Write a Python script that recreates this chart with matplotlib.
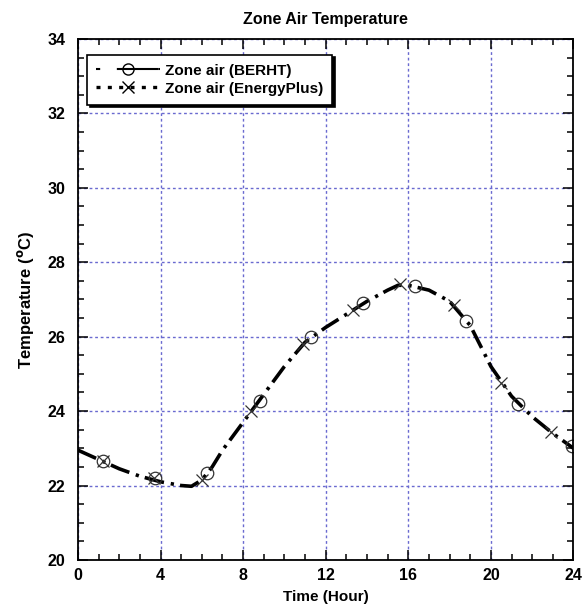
import matplotlib.pyplot as plt
from matplotlib.ticker import MultipleLocator

# curve readings (hour, deg C)
hours = [0, 1, 2, 3, 4, 5, 5.5, 6, 6.5, 7, 8, 9, 10, 11, 12, 13, 14, 15, 15.5, 16, 17, 18, 19, 20, 21, 22, 23, 24]
tempBerht = [22.95, 22.7, 22.45, 22.25, 22.1, 22.0, 21.98, 22.15, 22.5, 22.95, 23.7, 24.45, 25.2, 25.85,
             26.25, 26.6, 26.95, 27.25, 27.38, 27.38, 27.25, 26.95, 26.3, 25.2, 24.4, 23.85, 23.4, 23.0]
tempEplus = [22.95, 22.7, 22.45, 22.25, 22.1, 22.0, 21.98, 22.15, 22.5, 22.95, 23.7, 24.45, 25.2, 25.85,
             26.25, 26.6, 26.95, 27.25, 27.38, 27.38, 27.25, 26.95, 26.3, 25.2, 24.4, 23.85, 23.4, 23.0]

# marker positions
markHoursBerht = [1.2, 3.75, 6.25, 8.8, 11.3, 13.8, 16.3, 18.8, 21.3, 23.95]
markTempBerht = [22.65, 22.2, 22.35, 24.28, 26.0, 26.9, 27.35, 26.42, 24.18, 23.05]
markHoursEplus = [1.2, 3.7, 6.0, 8.4, 10.9, 13.3, 15.6, 18.2, 20.5, 22.9]
markTempEplus = [22.65, 22.2, 22.15, 24.0, 25.8, 26.72, 27.42, 26.85, 24.75, 23.45]

plt.rcParams['font.family'] = ['Liberation Sans', 'DejaVu Sans']
plt.rcParams['font.weight'] = 'bold'

fig = plt.figure(figsize=(5.85, 6.08), dpi=100)
ax = fig.add_axes([0.1333, 0.079, 0.847, 0.857])

# dash from one series, dot from the other -> dash-dot look
ax.plot(hours, tempBerht, color='black', lw=2.6, linestyle=(0, (5.5, 4.5)))
ax.plot(hours, tempEplus, color='black', lw=2.6, linestyle=(2.6, (0.9, 9.1)))
ax.plot(markHoursBerht, markTempBerht, linestyle='none', marker='o', ms=9, mfc='none', mec='#333333', mew=0.9)
ax.plot(markHoursEplus, markTempEplus, linestyle='none', marker='x', ms=9, mec='#333333', mew=0.9)

# legend handles
hB, = ax.plot([], [], color='black', lw=1.5, linestyle=(0, (2, 8, 20, 0.1)), marker='o', ms=8, mfc='none', mec='black', mew=1)
hE, = ax.plot([], [], color='black', lw=2.4, linestyle=(0, (1.2, 2.2)), marker='x', ms=8, mec='black', mew=1)
leg = ax.legend([hB, hE], ['Zone air (BERHT)', 'Zone air (EnergyPlus)'], loc='upper left',
                bbox_to_anchor=(0.018, 0.97), fontsize=11, frameon=True, fancybox=False,
                shadow={'color': 'black', 'alpha': 1}, handlelength=4.2, handletextpad=0.3,
                borderpad=0.6, labelspacing=0.25, borderaxespad=0)
leg.get_frame().set_edgecolor('black')
leg.get_frame().set_linewidth(1.2)

ax.set_xlim(0, 24)
ax.set_ylim(20, 34)
ax.xaxis.set_major_locator(MultipleLocator(4))
ax.xaxis.set_minor_locator(MultipleLocator(1))
ax.yaxis.set_major_locator(MultipleLocator(2))
ax.yaxis.set_minor_locator(MultipleLocator(0.5))
ax.tick_params(which='both', direction='in', top=True, right=True, labelsize=11.5, width=1.1)
ax.tick_params(which='major', length=7)
ax.tick_params(which='minor', length=4)
ax.tick_params(axis='y', pad=9)
ax.tick_params(axis='x', pad=6)
for lab in ax.get_xticklabels() + ax.get_yticklabels():
    lab.set_fontweight('bold')
for sp in ax.spines.values():
    sp.set_linewidth(1.3)

ax.grid(True, which='major', color='#6a6ad0', linestyle=(0, (2, 2)), lw=1.0)

ax.set_title('Zone Air Temperature', fontsize=11.5, fontweight='bold', pad=11)
ax.set_xlabel('Time (Hour)', fontsize=11, fontweight='bold', labelpad=5)
ax.set_ylabel('Temperature ($\\mathbf{^{o}}$C)', fontsize=12, fontweight='bold', labelpad=8)

fig.savefig('out.png', dpi=100)
